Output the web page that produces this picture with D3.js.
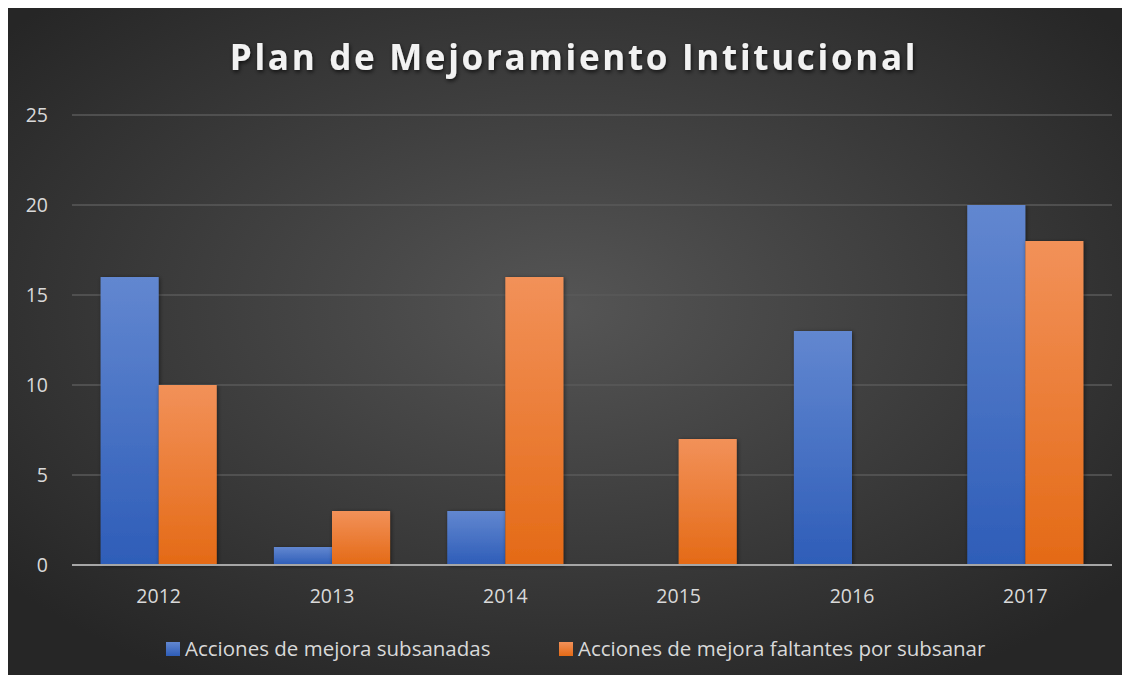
<!DOCTYPE html>
<html>
<head>
<meta charset="utf-8">
<script src="https://cdn.jsdelivr.net/npm/d3@7"></script>
<style>
  body { margin: 0; background: #fff; }
  text { font-family: "Open Sans", "Noto Sans", sans-serif; }
</style>
</head>
<body>
<div id="chart"></div>
<script>
// data
const years = ["2012", "2013", "2014", "2015", "2016", "2017"];
const subsanadas = [16, 1, 3, 0, 13, 20];
const faltantes = [10, 3, 16, 7, 0, 18];
const seriesNames = ["Acciones de mejora subsanadas", "Acciones de mejora faltantes por subsanar"];
const yTicks = [0, 5, 10, 15, 20, 25];

const W = 1130, H = 683;
const margin = {top: 115, right: 18, bottom: 118, left: 72};
const width = W - margin.left - margin.right;
const height = H - margin.top - margin.bottom;

const svg = d3.select("#chart").append("svg")
    .attr("width", W)
    .attr("height", H);

const defs = svg.append("defs");

// background gradient
const bg = defs.append("radialGradient")
    .attr("id", "bg")
    .attr("cx", "50%").attr("cy", "45%").attr("r", "65%");
bg.append("stop").attr("offset", "0%").attr("stop-color", "#555555");
bg.append("stop").attr("offset", "100%").attr("stop-color", "#262626");

// bar gradients
const grads = [["gBlue", "#6287d0", "#2e5db8"], ["gOrange", "#f29159", "#e46a16"]];
grads.forEach(g => {
    let lg = defs.append("linearGradient").attr("id", g[0])
        .attr("x1", 0).attr("y1", 0).attr("x2", 0).attr("y2", 1);
    lg.append("stop").attr("offset", "0%").attr("stop-color", g[1]);
    lg.append("stop").attr("offset", "100%").attr("stop-color", g[2]);
});

const shadow = defs.append("filter").attr("id", "shadow")
    .attr("x", "-20%").attr("y", "-20%").attr("width", "140%").attr("height", "140%");
shadow.append("feDropShadow")
    .attr("dx", 1).attr("dy", 1).attr("stdDeviation", 2)
    .attr("flood-color", "#000").attr("flood-opacity", 0.5);

const titleShadow = defs.append("filter").attr("id", "tshadow");
titleShadow.append("feDropShadow")
    .attr("dx", 1).attr("dy", 2).attr("stdDeviation", 2)
    .attr("flood-color", "#000").attr("flood-opacity", 0.7);

svg.append("rect")
    .attr("x", 8).attr("y", 8)
    .attr("width", W - 16).attr("height", H - 16)
    .attr("fill", "url(#bg)");

svg.append("text")
    .attr("x", W / 2 + 9)
    .attr("y", 70)
    .attr("text-anchor", "middle")
    .attr("fill", "#f2f2f2")
    .style("font-size", "35px")
    .style("font-weight", "bold")
    .style("letter-spacing", "2.7px")
    .attr("filter", "url(#tshadow)")
    .text("Plan de Mejoramiento Intitucional");

const g = svg.append("g")
    .attr("transform", `translate(${margin.left},${margin.top})`);

const x = d3.scaleBand()
    .domain(years)
    .range([0, width])
    .paddingInner(0.33)
    .paddingOuter(0.165);

const x1 = d3.scaleBand()
    .domain([0, 1])
    .range([0, x.bandwidth()]);

const y = d3.scaleLinear()
    .domain([0, 25])
    .range([height, 0]);

// gridlines
g.append("g")
    .selectAll("line")
    .data(yTicks.filter(d => d > 0))
    .join("line")
    .attr("x1", 0).attr("x2", width)
    .attr("y1", d => y(d)).attr("y2", d => y(d))
    .attr("stroke", "#5a5a5a")
    .attr("stroke-width", 1.3);

// y labels
g.append("g")
    .selectAll("text")
    .data(yTicks)
    .join("text")
    .attr("x", -24)
    .attr("y", d => y(d))
    .attr("dy", "0.35em")
    .attr("text-anchor", "end")
    .attr("fill", "#d9d9d9")
    .style("font-size", "19.5px")
    .text(d => d);

const rows = years.map((yr, i) => ({year: yr, vals: [subsanadas[i], faltantes[i]]}));

const groups = g.append("g")
    .selectAll("g")
    .data(rows)
    .join("g")
    .attr("transform", d => `translate(${x(d.year)},0)`);

groups.selectAll("rect")
    .data(d => d.vals.map((v, k) => ({k: k, v: v})).filter(e => e.v > 0))
    .join("rect")
    .attr("x", d => x1(d.k))
    .attr("y", d => y(d.v))
    .attr("width", x1.bandwidth())
    .attr("height", d => height - y(d.v))
    .attr("fill", d => d.k === 0 ? "url(#gBlue)" : "url(#gOrange)")
    .attr("filter", "url(#shadow)");

// zero axis
g.append("line")
    .attr("x1", 0).attr("x2", width)
    .attr("y1", y(0)).attr("y2", y(0))
    .attr("stroke", "#a6a6a6")
    .attr("stroke-width", 2);

// x labels
g.append("g")
    .selectAll("text")
    .data(years)
    .join("text")
    .attr("x", d => x(d) + x.bandwidth() / 2)
    .attr("y", height + 38)
    .attr("text-anchor", "middle")
    .attr("fill", "#d9d9d9")
    .style("font-size", "19.5px")
    .text(d => d);

// legend
const legendX = [166, 559];
const legend = svg.append("g")
    .selectAll("g")
    .data(seriesNames)
    .join("g")
    .attr("transform", (d, i) => `translate(${legendX[i]},649)`);

legend.append("rect")
    .attr("x", 0).attr("y", -7)
    .attr("width", 14).attr("height", 14)
    .attr("fill", (d, i) => i === 0 ? "url(#gBlue)" : "url(#gOrange)");

legend.append("text")
    .attr("x", 19)
    .attr("y", 0)
    .attr("dy", "0.35em")
    .attr("fill", "#d9d9d9")
    .style("font-size", "20.5px")
    .text(d => d);
</script>
</body>
</html>
